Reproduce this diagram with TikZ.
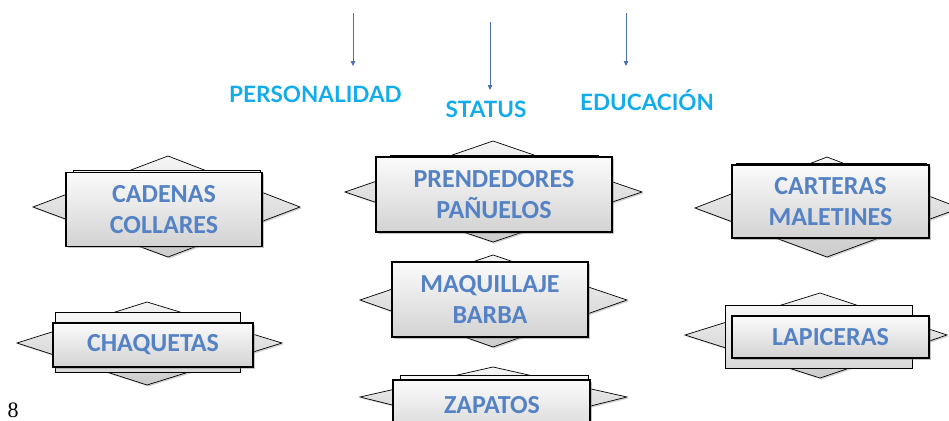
\documentclass[tikz,border=0pt]{standalone}
\usepackage{fontspec}
\setmainfont{Liberation Serif}
\newfontfamily\boxfont{Carlito}
\newfontfamily\topfont{Lato}
\usetikzlibrary{arrows.meta,shadows}
\definecolor{boxblue}{RGB}{84,130,196}
\definecolor{topblue}{RGB}{18,172,236}
\definecolor{arrowblue}{RGB}{76,110,180}
\tikzset{
  gemstar/.style={draw=black, line width=0.7pt, top color=gray!8, bottom color=gray!40,
    drop shadow={shadow xshift=1.5pt, shadow yshift=-1.5pt, opacity=0.35}},
  backrect/.style={draw=black, line width=1pt, top color=gray!6, bottom color=gray!30},
  boxtext/.style={text=boxblue, font=\boxfont\bfseries\fontsize{26pt}{31pt}\selectfont},
  frontrect/.style={draw=black, line width=1.3pt, top color=gray!3, bottom color=gray!35,
    drop shadow={shadow xshift=1.5pt, shadow yshift=-1.5pt, opacity=0.45},
    inner sep=0pt, align=center, boxtext},
  toplabel/.style={text=topblue, inner sep=0pt, anchor=base,
    font=\topfont\bfseries\fontsize{22.5pt}{26pt}\selectfont},
  downarrow/.style={draw=arrowblue, line width=0.8pt, -{Triangle[length=5pt,width=4.5pt]}}
}
\begin{document}
\begin{tikzpicture}[x=1pt,y=-1pt]
\useasboundingbox (0,0) rectangle (949,420);
\clip (0,0) rectangle (949,420);
\fill[white] (0,0) rectangle (949,420);

% top labels and arrows
\coordinate (a1s) at (353,13);
\coordinate (a1e) at (353,66);
\coordinate (a2s) at (490,22);
\coordinate (a2e) at (490,90);
\coordinate (a3s) at (626,13);
\coordinate (a3e) at (626,66);
\draw[downarrow] (a1s) -- (a1e);
\draw[downarrow] (a2s) -- (a2e);
\draw[downarrow] (a3s) -- (a3e);
\node[toplabel] (per) at (315.5,102) {PERSONALIDAD};
\node[toplabel] (sta) at (486,117) {STATUS};
\node[toplabel] (edu) at (647,110) {EDUCACIÓN};

% CADENAS COLLARES
\path[gemstar] (33,207) -- (168,156) -- (300,207) -- (168,257) -- cycle;
\path[backrect] (73,170) rectangle (260,244);
\node[frontrect, minimum width=196pt, minimum height=74pt] (cad) at (164,209.5) {CADENAS\\COLLARES};

% PRENDEDORES PAÑUELOS
\path[gemstar] (345,192) -- (493,141) -- (642,192) -- (493,242) -- cycle;
\path[backrect] (390,155) rectangle (598,230);
\node[frontrect, minimum width=236pt, minimum height=75pt] (pre) at (494,194.5) {PRENDEDORES\\PAÑUELOS};

% CARTERAS MALETINES
\path[gemstar] (695,208) -- (827,157) -- (960,208) -- (827,257) -- cycle;
\path[backrect] (736,163) rectangle (926,236);
\node[frontrect, minimum width=197pt, minimum height=73pt] (car) at (830.5,201.5) {CARTERAS\\MALETINES};

% CHAQUETAS
\path[gemstar] (17,343) -- (147,302) -- (282,343) -- (147,385) -- cycle;
\path[backrect] (55,312) rectangle (240,372);
\node[frontrect, minimum width=200pt, minimum height=44pt] (cha) at (153,345) {CHAQUETAS};

% MAQUILLAJE BARBA
\path[gemstar] (360,300) -- (493,255) -- (627,300) -- (493,347) -- cycle;
\node[frontrect, minimum width=196pt, minimum height=75pt] (maq) at (490,299.5) {MAQUILLAJE\\BARBA};

% ZAPATOS
\path[gemstar] (360,397) -- (493,367) -- (627,397) -- (493,430) -- cycle;
\path[backrect] (400,375) rectangle (588,440);
\node[frontrect, minimum width=197pt, minimum height=60pt] (zap) at (491.5,410) {};
\node[boxtext, inner sep=0pt] (zapt) at (492,405) {ZAPATOS};

% LAPICERAS
\path[gemstar] (685,335) -- (820,293) -- (947,335) -- (820,378) -- cycle;
\path[backrect] (725,305) rectangle (912,368);
\node[frontrect, minimum width=197pt, minimum height=42pt] (lap) at (830.5,337) {LAPICERAS};

% page number
\node[anchor=base west, inner sep=0pt, font=\fontsize{22pt}{24pt}\selectfont] (pg) at (7.5,417) {8};
\end{tikzpicture}
\end{document}
